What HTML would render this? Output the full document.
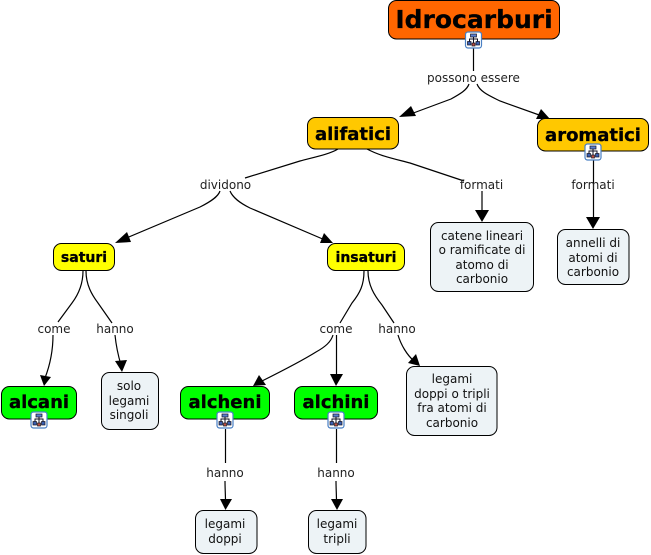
<!DOCTYPE html>
<html><head><meta charset="utf-8"><style>
html,body{margin:0;padding:0;background:#fff;width:651px;height:555px;overflow:hidden}
svg{display:block}
text{font-family:"DejaVu Sans","Liberation Sans",sans-serif;text-anchor:middle}
.l{font-size:12px;fill:#222;stroke:none}
.t{font-size:12px;fill:#111}
.b{font-weight:bold;fill:#000;stroke:#000;stroke-width:.3}
.c{fill:none;stroke:#000;stroke-width:1.2}
.a{fill:#000;stroke:none}
.n{stroke:#000;stroke-width:1}
</style></head><body>
<svg width="651" height="555" viewBox="0 0 651 555" xmlns="http://www.w3.org/2000/svg">
<defs>
<g id="ic">
<rect x="0.5" y="0.5" width="16" height="16" rx="2.5" fill="#fff" stroke="#4a80c4" stroke-width="1.2"/>
<path d="M8.5 4V8M4.5 11V7.500H12.500V11M8.500 8V12" fill="none" stroke="#112" stroke-width="1"/>
<rect x="5.500" y="2.500" width="6" height="3" fill="#5b7fd0" stroke="#112" stroke-width=".7"/>
<rect x="2.500" y="10" width="3.500" height="3.500" fill="#3a5fb0" stroke="#112" stroke-width=".7"/>
<rect x="7" y="11.500" width="3" height="3" fill="#c05040" stroke="#112" stroke-width=".7"/>
<rect x="11" y="10" width="3.500" height="3.500" fill="#3a5fb0" stroke="#112" stroke-width=".7"/>
</g>
</defs>

<!-- connectors -->
<path class="c" d="M473.500 48V71"/>
<path class="c" d="M469 84C467 90 460 94 451 99L408 115"/>
<polygon class="a" points="399,117 411,106 416,116"/>
<path class="c" d="M477 84C480 92 490 96 500 101L542 116"/>
<polygon class="a" points="550,119 536,119 541,109"/>

<path class="c" d="M338 149C330 154 315 157 300 161L245 178"/>
<path class="c" d="M367 149C380 156 395 159 410 163L464 181"/>
<path class="c" d="M220 191C218 197 210 202 200 207L124 239"/>
<polygon class="a" points="115,243 127,232 131,242"/>
<path class="c" d="M230 191C233 198 240 203 250 208L325 240"/>
<polygon class="a" points="333,243 320,243 324,233"/>

<path class="c" d="M482 191V214"/>
<polygon class="a" points="482,222 475,210 489,210"/>
<path class="c" d="M593.500 160V221"/>
<polygon class="a" points="593,229 586,217 600,217"/>

<path class="c" d="M83 271C83 285 78 295 72 303L58 322"/>
<path class="c" d="M86 271C86 285 92 295 98 303L112 323"/>
<path class="c" d="M53 335C53 350 50 365 45 378"/>
<polygon class="a" points="44,386 40,375 51,377"/>
<path class="c" d="M115 335C116 345 118 355 121 365"/>
<polygon class="a" points="122,372 115,361 127,360"/>

<path class="c" d="M364 271C364 285 360 293 352 303L340 323"/>
<path class="c" d="M368 271C368 285 374 295 382 305L394 323"/>
<path class="c" d="M333 335C331 342 325 347 316 352C300 362 280 372 262 381"/>
<polygon class="a" points="253,386 259,375 266,385"/>
<path class="c" d="M336.500 335V378"/>
<polygon class="a" points="336,386 330,374 343,374"/>
<path class="c" d="M398 335C401 345 407 355 414 361"/>
<polygon class="a" points="420,366 408,363 416,354"/>

<path class="c" d="M225.500 429V463"/>
<path class="c" d="M225 481C225 488 225.500 495 225.500 502"/>
<polygon class="a" points="225.500,510 220,499 232,499"/>
<path class="c" d="M336.500 429V463"/>
<path class="c" d="M336 481C336 488 336.500 495 336.500 502"/>
<polygon class="a" points="337,510 331,499 343,499"/>

<!-- label text -->
<text class="l" x="473.500" y="82">possono essere</text>
<text class="l" x="225.500" y="189">dividono</text>
<text class="l" x="481.500" y="189">formati</text>
<text class="l" x="593" y="189">formati</text>
<text class="l" x="54" y="333">come</text>
<text class="l" x="115" y="333">hanno</text>
<text class="l" x="336" y="333">come</text>
<text class="l" x="397" y="333">hanno</text>
<text class="l" x="225" y="477">hanno</text>
<text class="l" x="336" y="477">hanno</text>

<!-- concept nodes -->
<rect class="n" x="388.500" y="0.500" width="171" height="38.500" rx="8" fill="#ff6600"/>
<text class="b" x="474" y="28" font-size="25">Idrocarburi</text>
<rect class="n" x="307.500" y="117.500" width="91" height="31.500" rx="8" fill="#ffc800"/>
<text class="b" x="353" y="140" font-size="18">alifatici</text>
<rect class="n" x="537.500" y="118.500" width="111" height="32.500" rx="8" fill="#ffc800"/>
<text class="b" x="593" y="141" font-size="18">aromatici</text>
<rect class="n" x="53.500" y="243.500" width="61" height="27" rx="8" fill="#ffff00"/>
<text class="b" x="84" y="262" font-size="14">saturi</text>
<rect class="n" x="327.500" y="243.500" width="77" height="27" rx="8" fill="#ffff00"/>
<text class="b" x="366" y="262" font-size="14">insaturi</text>
<rect class="n" x="1.500" y="386.500" width="75" height="32.500" rx="8" fill="#00ff00"/>
<text class="b" x="39" y="408" font-size="18">alcani</text>
<rect class="n" x="180.500" y="386.500" width="89" height="32.500" rx="8" fill="#00ff00"/>
<text class="b" x="225" y="408" font-size="18">alcheni</text>
<rect class="n" x="294.500" y="386.500" width="83" height="32.500" rx="8" fill="#00ff00"/>
<text class="b" x="336" y="408" font-size="18">alchini</text>

<!-- text boxes -->
<g fill="#edf3f6">
<rect class="n" x="430.500" y="222.500" width="103" height="69" rx="8"/>
<rect class="n" x="557.500" y="229.500" width="71.500" height="55" rx="8"/>
<rect class="n" x="101.500" y="372.500" width="57" height="57" rx="8"/>
<rect class="n" x="406.500" y="366.500" width="90.500" height="69" rx="8"/>
<rect class="n" x="195.500" y="510.500" width="61.500" height="43" rx="8"/>
<rect class="n" x="308.500" y="510.500" width="57.500" height="43" rx="8"/>
</g>
<text class="t" x="482" y="240">catene lineari</text>
<text class="t" x="482" y="254">o ramificate di</text>
<text class="t" x="482" y="269">atomo di</text>
<text class="t" x="482" y="283">carbonio</text>
<text class="t" x="593" y="247">annelli di</text>
<text class="t" x="593" y="262">atomi di</text>
<text class="t" x="593" y="276">carbonio</text>
<text class="t" x="129" y="390">solo</text>
<text class="t" x="129" y="405">legami</text>
<text class="t" x="129" y="419">singoli</text>
<text class="t" x="452" y="383">legami</text>
<text class="t" x="452" y="398">doppi o tripli</text>
<text class="t" x="452" y="412">fra atomi di</text>
<text class="t" x="452" y="427">carbonio</text>
<text class="t" x="225" y="528">legami</text>
<text class="t" x="225" y="543">doppi</text>
<text class="t" x="337" y="528">legami</text>
<text class="t" x="337" y="543">tripli</text>

<!-- icons -->
<use href="#ic" x="465" y="31.500"/>
<use href="#ic" x="584.500" y="143.500"/>
<use href="#ic" x="30.500" y="411.500"/>
<use href="#ic" x="216.500" y="411.500"/>
<use href="#ic" x="327.500" y="411.500"/>
</svg>
</body></html>
